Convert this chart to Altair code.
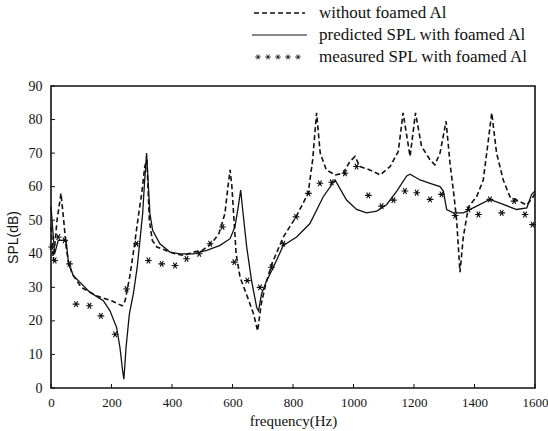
import altair as alt
import pandas as pd

# ---- data ----
freq_without = [0, 8, 20, 33, 42, 50, 57, 70, 100, 150, 200, 235, 245, 260, 275, 290, 300, 310, 317,
                325, 335, 350, 380, 410, 440, 470, 500, 530, 555, 575, 585, 592, 598, 605, 612, 625,
                650, 670, 683, 695, 710, 730, 768, 810, 850, 865, 878, 890, 910, 940, 966, 988, 1005,
                1021, 1054, 1088, 1121, 1148, 1164, 1187, 1205, 1225, 1253, 1269, 1286, 1306, 1319,
                1330, 1341, 1352, 1363, 1380, 1407, 1429, 1446, 1457, 1473, 1495, 1517, 1539, 1573,
                1594, 1600]
spl_without = [48, 38, 50, 58, 50, 42, 38, 34, 30, 27.5, 26, 24.5, 26, 33, 42, 52, 58, 66, 68,
               50, 44, 42, 41, 40, 39.5, 40.5, 41, 43, 46, 52, 60, 65, 60, 50, 40, 33,
               27, 22, 17, 25, 31, 37, 45, 51, 58, 68, 82, 70, 65, 63.5, 64, 67.5, 69,
               66, 65, 63.5, 66, 70.5, 82, 69, 82, 72, 68, 66.5, 70, 79.5, 67,
               59, 50, 34.5, 45, 54, 57, 62, 74, 82, 70, 62, 57, 56, 54.5,
               57, 58]

freq_pred = [0, 12, 24, 50, 58, 74, 129, 173, 195, 217, 228, 237, 241, 248, 259, 272, 285, 294,
             303, 309, 316, 322, 327, 336, 360, 393, 426, 470, 515, 559, 592, 608, 619, 627, 635,
             647, 663, 680, 686, 696, 713, 735, 768, 812, 856, 900, 939, 977, 1010, 1043, 1077,
             1110, 1143, 1176, 1187, 1220, 1253, 1286, 1297, 1308, 1330, 1363, 1407, 1451, 1495,
             1539, 1573, 1589, 1600]
spl_pred = [54, 40, 44, 44, 37, 33.5, 28.5, 26, 23, 18, 12, 5, 2.6, 12, 22, 28, 36, 44,
            52, 61, 70, 60, 52, 47, 43, 40.5, 40, 40, 41, 42.5, 44.5, 48, 54, 59, 52,
            42, 32, 24, 23, 28, 32, 36, 42.5, 45, 49, 57, 62, 56, 53.2, 52.2, 52.7,
            54.7, 58.7, 63.2, 63.7, 62, 61, 60, 58.7, 53.2, 52.2, 52.2, 54.2, 56.2, 54.7,
            53.2, 53.7, 57.7, 58.7]

freq_meas = [2, 12, 24, 45, 61, 83, 127, 165, 212, 250, 283, 322, 366, 410, 448, 490, 526, 567,
             606, 649, 691, 729, 768, 810, 851, 889, 928, 972, 1010, 1049, 1093, 1132, 1170, 1209,
             1253, 1291, 1336, 1380, 1413, 1451, 1490, 1531, 1567, 1592]
spl_meas = [42, 38, 45, 44, 37, 25, 24.5, 21.5, 16, 29.5, 43, 38, 37, 36.5, 38.5, 40, 43, 48,
            37.5, 32, 30, 36, 43, 51, 58, 61, 61.3, 64, 66, 57.4, 54.2, 56, 58.7, 58.2,
            56.2, 57.7, 51.4, 53.2, 51.7, 56.2, 52.2, 55.7, 51.7, 48.7]

x_ticks = [0, 200, 400, 600, 800, 1000, 1200, 1400, 1600]
y_ticks = [0, 10, 20, 30, 40, 50, 60, 70, 80, 90]
legend_labels = ["without foamed Al", "predicted SPL with foamed Al", "measured SPL with foamed Al"]

# ---- layout / style ----
W, H = 484, 302
SANS = "Liberation Sans"
SERIF = "Liberation Serif"
INK = "#111111"
STAR = "M-1,0L1,0M-0.5,-0.866L0.5,0.866M-0.5,0.866L0.5,-0.866"

xs = alt.Scale(domain=[0, 1600], nice=False, zero=False)
ys = alt.Scale(domain=[0, 90], nice=False, zero=False)

x_axis = alt.Axis(values=x_ticks, format="d", domain=False, ticks=False, grid=False,
                  labelFont=SERIF, labelFontSize=13, labelColor=INK, labelPadding=8,
                  labelFlush=False,
                  title="frequency(Hz)", titleFont=SERIF, titleFontSize=15,
                  titleFontWeight="normal", titleColor=INK, titlePadding=4)
y_axis = alt.Axis(values=y_ticks, format="d", domain=False, ticks=False, grid=False,
                  labelFont=SERIF, labelFontSize=14, labelColor=INK, labelPadding=9,
                  labelFlush=False,
                  title="SPL(dB)", titleFont=SANS, titleFontSize=14,
                  titleFontWeight="normal", titleColor=INK, titlePadding=8)

df_w = pd.DataFrame({"f": freq_without, "spl": spl_without})
df_p = pd.DataFrame({"f": freq_pred, "spl": spl_pred})
df_m = pd.DataFrame({"f": freq_meas, "spl": spl_meas})

X = alt.X("f:Q", scale=xs, axis=x_axis)
Y = alt.Y("spl:Q", scale=ys, axis=y_axis)

dashed = alt.Chart(df_w).mark_line(color=INK, strokeWidth=1.6, strokeDash=[5, 3]).encode(
    x=X, y=Y, order="f:Q")
solid = alt.Chart(df_p).mark_line(color=INK, strokeWidth=1.3).encode(x=X, y=Y, order="f:Q")
stars = alt.Chart(df_m).mark_point(shape=STAR, filled=False, stroke=INK, strokeWidth=1.1,
                                   size=45, opacity=1).encode(x=X, y=Y)

xt = alt.Chart(pd.DataFrame({"f": x_ticks})).mark_rule(color=INK, strokeWidth=1).encode(
    x=X, y=alt.value(H), y2=alt.value(H - 4))
yt = alt.Chart(pd.DataFrame({"spl": y_ticks})).mark_rule(color=INK, strokeWidth=1).encode(
    y=Y, x=alt.value(0), x2=alt.value(4))

# ---- legend (above the plot, top right) ----
row_y = [-73, -51, -29]
text_x = 268
leg_text = alt.Chart(pd.DataFrame({"label": legend_labels, "ry": row_y})).mark_text(
    align="left", baseline="middle", font=SERIF, fontSize=17, color=INK).encode(
    x=alt.value(text_x), y=alt.Y("ry:Q", scale=None), text="label:N")
leg_dash = alt.Chart(pd.DataFrame({"a": [0]})).mark_rule(
    color=INK, strokeWidth=1.6, strokeDash=[5, 3]).encode(
    x=alt.value(203), x2=alt.value(254), y=alt.value(row_y[0]))
leg_solid = alt.Chart(pd.DataFrame({"a": [0]})).mark_rule(color=INK, strokeWidth=1.1).encode(
    x=alt.value(201), x2=alt.value(256), y=alt.value(row_y[1]))
leg_stars = alt.Chart(pd.DataFrame({"px": [207, 217, 227, 237, 247]})).mark_point(
    shape=STAR, filled=False, stroke=INK, strokeWidth=0.9, size=30, opacity=1).encode(
    x=alt.X("px:Q", scale=None), y=alt.value(row_y[2]))

chart = alt.layer(xt, yt, dashed, solid, stars, leg_text, leg_dash, leg_solid, leg_stars).properties(
    width=W, height=H,
    autosize=alt.AutoSizeParams(type="none"),
    padding={"left": 51, "top": 86, "right": 13, "bottom": 43},
    background="white",
).configure_view(stroke=INK, strokeWidth=1.6)

chart.save("out.html", embed_options={"renderer": "svg", "actions": False})
